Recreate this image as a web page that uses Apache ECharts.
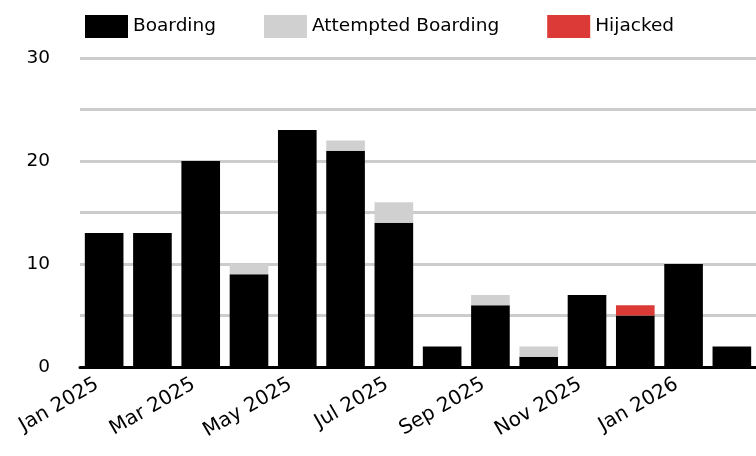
<!DOCTYPE html>
<html><head><meta charset="utf-8">
<script src="https://cdn.jsdelivr.net/npm/echarts@6/dist/echarts.min.js"></script>
<style>html,body{margin:0;padding:0;background:#fff}#c{width:756px;height:456px}</style>
</head><body><div id="c"></div>
<script>
const categories = ['Jan 2025','Feb 2025','Mar 2025','Apr 2025','May 2025','Jun 2025','Jul 2025','Aug 2025','Sep 2025','Oct 2025','Nov 2025','Dec 2025','Jan 2026','Feb 2026'];
const boarding = [13,13,20,9,23,21,14,2,6,1,7,5,10,2];
const attempted = [0,0,0,1,0,1,2,0,1,1,0,0,0,0];
const hijacked = [0,0,0,0,0,0,0,0,0,0,0,1,0,0];
const yTicks = [0,10,20,30];

const FONT = 'DejaVu Sans';
const chart = echarts.init(document.getElementById('c'), null, {renderer:'canvas'});
const mk = (name, data, color) => ({
  name, type:'bar', stack:'s', data, barCategoryGap:'20%',
  itemStyle:{color}, emphasis:{disabled:true}
});
chart.setOption({
  animation:false,
  textStyle:{fontFamily:FONT},
  legend:{
    left:80, top:10, itemWidth:43, itemHeight:23, itemGap:48,
    textStyle:{fontFamily:FONT, fontSize:18.5, color:'#000'},
    icon:'rect',
    data:['Boarding','Attempted Boarding','Hijacked']
  },
  grid:{left:80, right:0, top:58, bottom:89, containLabel:false},
  xAxis:{
    type:'category', data:categories,
    axisLine:{lineStyle:{color:'#000', width:3}},
    axisTick:{show:false},
    axisLabel:{interval:1, rotate:30, fontFamily:FONT, fontSize:20, color:'#000', margin:12, padding:[0,8,0,0]},
  },
  yAxis:{
    type:'value', min:0, max:30, interval:5,
    axisLine:{show:false}, axisTick:{show:false},
    splitLine:{lineStyle:{color:'#cccccc', width:3}},
    axisLabel:{fontFamily:FONT, fontSize:18.5, color:'#000', margin:30,
      formatter:v => yTicks.includes(v) ? String(v) : ''}
  },
  series:[
    mk('Boarding', boarding, '#000000'),
    mk('Attempted Boarding', attempted, '#d0d0d0'),
    mk('Hijacked', hijacked, '#dc3a36')
  ]
});
</script></body></html>
